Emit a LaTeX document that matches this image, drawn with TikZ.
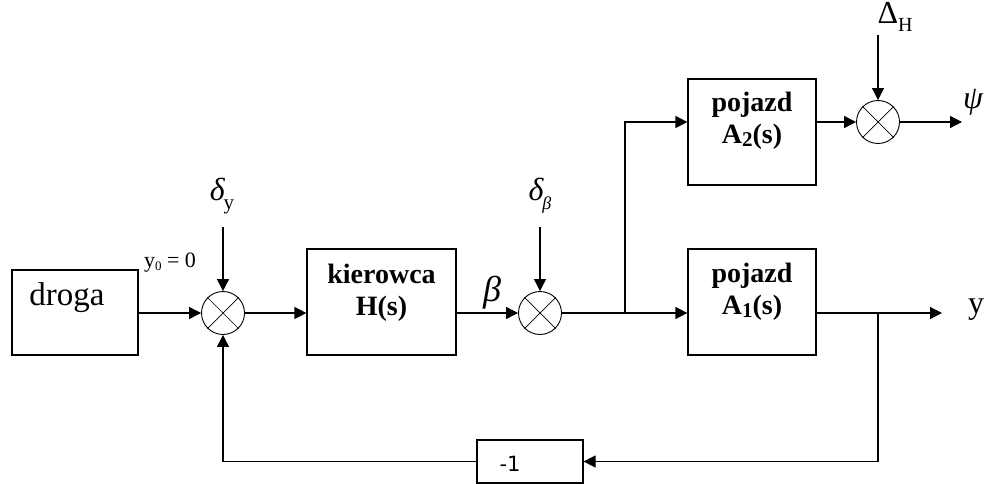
\documentclass[tikz,border=0pt]{standalone}
\usepackage{fontspec}
\setmainfont{Liberation Serif}
\newfontfamily\sansf{DejaVu Sans}
\usetikzlibrary{arrows.meta}
\begin{document}
\begin{tikzpicture}[x=1pt,y=-1pt,
  blk/.style={draw,line width=1.2pt,inner sep=0pt,minimum width=128pt,minimum height=106pt},
  btxt/.style={font=\fontsize{28}{32}\selectfont\bfseries,align=center,inner sep=0pt},
  sumj/.style={circle,draw,line width=0.9pt,minimum size=43pt,inner sep=0pt},
  sig/.style={line width=1.2pt,-{Triangle[length=12pt,width=12pt]}},
  ln/.style={line width=1.2pt},
  lbl/.style={inner sep=0pt}]
\useasboundingbox (0,0) rectangle (987,484);
% blocks
\node[blk,minimum width=126pt,minimum height=85pt] (droga) at (75,312.5) {};
\node[lbl,font=\fontsize{33}{35}\selectfont] (dt) at (67,298) {droga};
\node[blk,minimum width=149pt] (kier) at (381.5,302) {};
\node[btxt] (kt) at (381.5,293) {kierowca\\H(s)};
\node[blk] (A2) at (752,132) {};
\node[btxt] (a2t) at (752,121) {pojazd\\A\raisebox{-0.25ex}{\fontsize{21}{21}\selectfont 2}(s)};
\node[blk] (A1) at (752,302) {};
\node[btxt] (a1t) at (752,292) {pojazd\\A\raisebox{-0.25ex}{\fontsize{21}{21}\selectfont 1}(s)};
\node[draw,line width=1.2pt,minimum width=106pt,minimum height=43pt,inner sep=0pt] (m1) at (530,461.5) {};
\node[lbl,font=\sansf\fontsize{21}{22}\selectfont] (m1t) at (510,464) {-1};
% summing junctions
\node[sumj] (s1) at (223,313) {};
\node[sumj] (s2) at (540,313) {};
\node[sumj] (s3) at (878,122) {};
\foreach \s in {s1,s2,s3}{
  \draw[line width=0.7pt] (\s.north west) -- (\s.south east);
  \draw[line width=0.7pt] (\s.north east) -- (\s.south west);
}
% coordinates
\coordinate (dy) at (223,227);
\coordinate (db) at (540,227);
\coordinate (dH) at (878,35);
\coordinate (b1) at (625,313);
\coordinate (b2) at (878,313);
\coordinate (yo) at (942,313);
\coordinate (po) at (962,122);
% connectors
\draw[sig] (droga.east |- s1) -- (s1.west);
\draw[sig] (dy) -- (s1.north);
\draw[sig] (s1.east) -- (s1.east -| kier.west);
\draw[sig] (kier.east |- s2) -- (s2.west);
\draw[sig] (db) -- (s2.north);
\draw[sig] (s2.east) -- (s2.east -| A1.west);
\draw[sig] (b1) |- (A2.west |- s3);
\draw[sig] (A2.east |- s3) -- (s3.west);
\draw[sig] (dH) -- (s3.north);
\draw[sig] (s3.east) -- (po);
\draw[sig] (A1.east |- b2) -- (yo);
\draw[sig] (b2) |- (m1.east);
\draw[sig] (m1.west) -| (s1.south);
% labels
\node[lbl,font=\fontsize{22}{24}\selectfont] (l0) at (170,263) {y\raisebox{-0.3ex}{\fontsize{13}{13}\selectfont 0} = 0};
\node[lbl] (ldy) at (222,196) {\fontsize{32}{34}\selectfont\itshape δ\kern-1pt\raisebox{-0.6ex}{\fontsize{21}{21}\selectfont\upshape y}};
\node[lbl] (ldb) at (540,196) {\fontsize{32}{34}\selectfont\itshape δ\kern-1pt\raisebox{-0.6ex}{\fontsize{18}{18}\selectfont β}};
\node[lbl] (lb) at (492,293) {\fontsize{36}{38}\selectfont\itshape β};
\node[lbl] (lH) at (895,17) {\fontsize{32}{34}\selectfont Δ\raisebox{-0.6ex}{\fontsize{20}{20}\selectfont H}};
\node[lbl] (lpsi) at (973,102) {\fontsize{32}{34}\selectfont\itshape ψ};
\node[lbl] (ly) at (976,310) {\fontsize{32}{34}\selectfont y};
\end{tikzpicture}
\end{document}
